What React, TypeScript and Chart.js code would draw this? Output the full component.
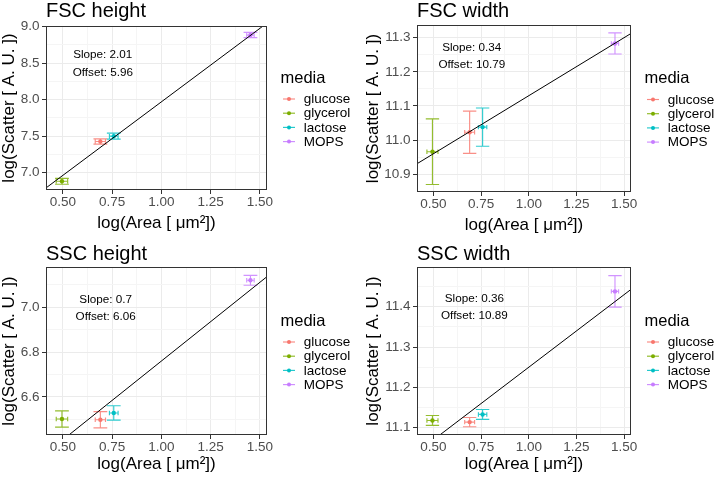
import React, { useEffect, useRef } from 'react';
import { Chart, registerables } from 'chart.js';

Chart.register(...registerables);

// ---------------- data ----------------
const media = ['glucose', 'glycerol', 'lactose', 'MOPS'];
const mediaColors = ['#F8766D', '#7CAE00', '#00BFC4', '#C77CFF'];

const logArea = [0.69, 0.495, 0.758, 1.452];
const logAreaErr = [0.026, 0.029, 0.022, 0.019];

const fscHeight = [7.428, 6.883, 7.5, 8.883];
const fscHeightErr = [0.036, 0.041, 0.041, 0.036];
const fscWidth = [11.023, 10.966, 11.038, 11.283];
const fscWidthErr = [0.062, 0.096, 0.056, 0.031];
const sscHeight = [6.499, 6.502, 6.529, 7.119];
const sscHeightErr = [0.036, 0.036, 0.032, 0.022];
const sscWidth = [11.114, 11.118, 11.133, 11.438];
const sscWidthErr = [0.0115, 0.0123, 0.0123, 0.039];

const panelTitles = ['FSC height', 'FSC width', 'SSC height', 'SSC width'];
const panelValues = [fscHeight, fscWidth, sscHeight, sscWidth];
const panelErrors = [fscHeightErr, fscWidthErr, sscHeightErr, sscWidthErr];

const fitSlopes = [2.01, 0.34, 0.7, 0.36];
const fitOffsets = [5.96, 10.79, 6.06, 10.89];
const slopeLabels = ['Slope: 2.01', 'Slope: 0.34', 'Slope: 0.7', 'Slope: 0.36'];
const offsetLabels = ['Offset: 5.96', 'Offset: 10.79', 'Offset: 6.06', 'Offset: 10.89'];

const xTickValues = [0.5, 0.75, 1.0, 1.25, 1.5];
const xTickLabels = ['0.50', '0.75', '1.00', '1.25', '1.50'];
const xLimits = [0.414, 1.536];

const yTickValues = [
  [7.0, 7.5, 8.0, 8.5, 9.0],
  [10.9, 11.0, 11.1, 11.2, 11.3],
  [6.6, 6.8, 7.0],
  [11.1, 11.2, 11.3, 11.4],
];
const yTickLabels = [
  ['7.0', '7.5', '8.0', '8.5', '9.0'],
  ['10.9', '11.0', '11.1', '11.2', '11.3'],
  ['6.6', '6.8', '7.0'],
  ['11.1', '11.2', '11.3', '11.4'],
];
const yLimits = [
  [6.764, 9.007],
  [10.848, 11.337],
  [6.431, 7.178],
  [11.082, 11.4985],
];

const xAxisTitle = 'log(Area [ \u03BCm\u00B2])';
const yAxisTitle = 'log(Scatter [ A. U. ])';
const legendTitle = 'media';

// ---------------- layout / style ----------------
const FONT = "'Liberation Sans', Arial, Helvetica, sans-serif";
const layouts = [
  { left: 0, top: 0, w: 358, h: 238, plot: [46, 26, 267, 190], yTitlePad: 0.7, xTitlePad: 5.8, titleBase: 16.7, noteX: 0.257, noteY: [0.193, 0.303] },
  { left: 358, top: 0, w: 358, h: 238, plot: [59, 25, 273, 192], yTitlePad: 7.3, xTitlePad: 4.5, titleBase: 16.7, noteX: 0.256, noteY: [0.153, 0.256] },
  { left: 0, top: 238, w: 358, h: 239, plot: [46, 29, 267, 197], yTitlePad: 0.7, xTitlePad: 3.8, titleBase: 21.7, noteX: 0.27, noteY: [0.2125, 0.315] },
  { left: 358, top: 238, w: 358, h: 239, plot: [59, 29, 273, 197], yTitlePad: 6.8, xTitlePad: 3.8, titleBase: 21.7, noteX: 0.268, noteY: [0.208, 0.312] },
];

function withAlpha(hex: string, a: number) {
  const n = parseInt(hex.slice(1), 16);
  return `rgba(${(n >> 16) & 255},${(n >> 8) & 255},${n & 255},${a})`;
}

function gridTicks(major: number[], min: number, max: number) {
  const step = major[1] - major[0];
  const out: any[] = [];
  for (let k = -2; k <= major.length * 2 + 2; k++) {
    const v = major[0] + (k * step) / 2;
    if (v < min - 1e-9 || v > max + 1e-9) continue;
    out.push({ value: +v.toFixed(5), isMain: k % 2 === 0 && k >= 0 && k < major.length * 2 });
  }
  return out;
}

function labelFor(values: number[], labels: string[], v: number) {
  const i = values.findIndex((m) => Math.abs(m - v) < 1e-6);
  return i >= 0 ? labels[i] : '';
}

const errorBarPlugin = {
  id: 'errorBars',
  beforeDatasetsDraw(chart: any) {
    const { ctx, chartArea, scales } = chart;
    const xs = scales.x;
    const ys = scales.y;
    ctx.save();
    ctx.beginPath();
    ctx.rect(chartArea.left, chartArea.top, chartArea.right - chartArea.left, chartArea.bottom - chartArea.top);
    ctx.clip();
    chart.data.datasets.forEach((ds: any) => {
      if (ds.errY === undefined) return;
      const p = ds.data[0];
      const px = xs.getPixelForValue(p.x);
      const py = ys.getPixelForValue(p.y);
      const yTop = ys.getPixelForValue(p.y + ds.errY);
      const yBot = ys.getPixelForValue(p.y - ds.errY);
      const capL = xs.getPixelForValue(p.x - 0.035);
      const capR = xs.getPixelForValue(p.x + 0.035);
      const xL = xs.getPixelForValue(p.x - ds.errX);
      const xR = xs.getPixelForValue(p.x + ds.errX);
      ctx.strokeStyle = withAlpha(ds.baseColor, 0.82);
      ctx.lineWidth = 1.15;
      ctx.beginPath();
      ctx.moveTo(px, yTop); ctx.lineTo(px, yBot);
      ctx.moveTo(capL, yTop); ctx.lineTo(capR, yTop);
      ctx.moveTo(capL, yBot); ctx.lineTo(capR, yBot);
      ctx.moveTo(xL, py); ctx.lineTo(xR, py);
      ctx.moveTo(xL, py - 2.2); ctx.lineTo(xL, py + 2.2);
      ctx.moveTo(xR, py - 2.2); ctx.lineTo(xR, py + 2.2);
      ctx.stroke();
    });
    ctx.restore();
  },
};

const decorPlugin = {
  id: 'panelDecor',
  afterDraw(chart: any, _args: any, opts: any) {
    const { ctx, chartArea } = chart;
    const { left, top, right, bottom } = chartArea;
    ctx.save();
    // panel border
    ctx.strokeStyle = '#333333';
    ctx.lineWidth = 1;
    ctx.strokeRect(left + 0.5, top + 0.5, right - left - 1, bottom - top - 1);
    // panel title
    ctx.fillStyle = '#000000';
    ctx.font = `20px ${FONT}`;
    ctx.textAlign = 'left';
    ctx.textBaseline = 'alphabetic';
    ctx.fillText(opts.title, left, opts.titleBase);
    // fit annotation
    ctx.font = `11.7px ${FONT}`;
    ctx.textAlign = 'center';
    const nx = left + opts.noteX * (right - left);
    opts.notes.forEach((t: string, i: number) => {
      ctx.fillText(t, nx, top + opts.noteY[i] * (bottom - top));
    });
    // legend
    const cy = (top + bottom) / 2;
    ctx.textAlign = 'left';
    ctx.font = `16.5px ${FONT}`;
    ctx.fillText(opts.legendTitle, right + 13.5, cy - 25.5);
    ctx.font = `13.5px ${FONT}`;
    ctx.textBaseline = 'middle';
    chart.data.datasets.forEach((ds: any, i: number) => {
      if (ds.errY === undefined) return;
      const y = cy - 9 + 14.2 * i;
      ctx.strokeStyle = withAlpha(ds.baseColor, 0.85);
      ctx.lineWidth = 1.15;
      ctx.beginPath();
      ctx.moveTo(right + 16, y); ctx.lineTo(right + 28, y);
      ctx.stroke();
      ctx.fillStyle = ds.baseColor;
      ctx.beginPath();
      ctx.arc(right + 22, y, 2, 0, Math.PI * 2);
      ctx.fill();
      ctx.fillStyle = '#000000';
      ctx.fillText(ds.label, right + 36.7, y + 0.5);
    });
    ctx.restore();
  },
};

function Panel({ idx }: { idx: number }) {
  const ref = useRef<HTMLCanvasElement | null>(null);
  const L = layouts[idx];
  useEffect(() => {
    if (!ref.current) return;
    const [pl, pt, pr, pb] = L.plot;
    const yVals = panelValues[idx];
    const yErr = panelErrors[idx];
    const [yMin, yMax] = yLimits[idx];
    const [xMin, xMax] = xLimits;
    const yMajor = yTickValues[idx];
    const yLabels = yTickLabels[idx];

    const pointSets = media.map((m, i) => ({
      type: 'scatter' as const,
      label: m,
      data: [{ x: logArea[i], y: yVals[i] }],
      backgroundColor: mediaColors[i],
      borderColor: mediaColors[i],
      borderWidth: 0,
      pointRadius: 2.2,
      pointHoverRadius: 2.2,
      order: 1,
      errX: logAreaErr[i],
      errY: yErr[i],
      baseColor: mediaColors[i],
    }));
    const fitSet = {
      type: 'line' as const,
      label: 'fit',
      data: [
        { x: xMin, y: fitSlopes[idx] * xMin + fitOffsets[idx] },
        { x: xMax, y: fitSlopes[idx] * xMax + fitOffsets[idx] },
      ],
      borderColor: '#000000',
      borderWidth: 1,
      pointRadius: 0,
      fill: false,
      order: 0,
    };

    const gridColor = (c: any) => (c.tick && c.tick.isMain ? '#EBEBEB' : '#F5F5F5');
    const tickColor = (c: any) => (c.tick && c.tick.isMain ? '#333333' : 'rgba(0,0,0,0)');

    const chart = new Chart(ref.current, {
      type: 'scatter',
      data: { datasets: [...pointSets, fitSet] as any },
      options: {
        responsive: false,
        animation: false,
        events: [],
        layout: { padding: { left: 0, top: pt, right: L.w - pr, bottom: 0 } },
        plugins: {
          legend: { display: false },
          tooltip: { enabled: false },
          title: { display: false },
          panelDecor: {
            title: panelTitles[idx],
            titleBase: L.titleBase,
            notes: [slopeLabels[idx], offsetLabels[idx]],
            noteX: L.noteX,
            noteY: L.noteY,
            legendTitle,
          },
        } as any,
        scales: {
          x: {
            type: 'linear',
            position: 'bottom',
            min: xMin,
            max: xMax,
            bounds: 'data',
            afterBuildTicks: (s: any) => { s.ticks = gridTicks(xTickValues, xMin, xMax); },
            afterFit: (s: any) => { s.height = L.h - pb; },
            ticks: {
              autoSkip: false,
              maxRotation: 0,
              minRotation: 0,
              padding: 1.5,
              color: '#4D4D4D',
              font: { family: FONT, size: 13.5, lineHeight: 1 },
              callback: (v: any, i: number, ticks: any[]) => (ticks[i].isMain ? labelFor(xTickValues, xTickLabels, v) : ''),
            },
            grid: { color: gridColor, lineWidth: 1, tickColor, tickLength: 4, tickWidth: 1, drawTicks: true },
            border: { display: false },
            title: {
              display: true,
              text: xAxisTitle,
              color: '#000000',
              font: { family: FONT, size: 17, lineHeight: 1 },
              padding: { top: 0, bottom: L.xTitlePad },
            },
          },
          y: {
            type: 'linear',
            position: 'left',
            min: yMin,
            max: yMax,
            bounds: 'data',
            afterBuildTicks: (s: any) => { s.ticks = gridTicks(yMajor, yMin, yMax); },
            afterFit: (s: any) => { s.width = pl; },
            ticks: {
              autoSkip: false,
              padding: 2.5,
              color: '#4D4D4D',
              font: { family: FONT, size: 13.5, lineHeight: 1.2 },
              callback: (v: any, i: number, ticks: any[]) => (ticks[i].isMain ? labelFor(yMajor, yLabels, v) : ''),
            },
            grid: { color: gridColor, lineWidth: 1, tickColor, tickLength: 4, tickWidth: 1, drawTicks: true },
            border: { display: false },
            title: {
              display: true,
              text: yAxisTitle,
              color: '#000000',
              font: { family: FONT, size: 17, lineHeight: 1 },
              padding: { top: L.yTitlePad, bottom: 0 },
            },
          },
        },
      } as any,
      plugins: [errorBarPlugin, decorPlugin],
    });
    return () => chart.destroy();
  }, [idx]);

  return (
    <canvas
      ref={ref}
      width={L.w}
      height={L.h}
      style={{ position: 'absolute', left: L.left, top: L.top, width: L.w, height: L.h }}
    />
  );
}

export default function App() {
  return (
    <div style={{ position: 'fixed', left: 0, top: 0, width: 716, height: 477, background: '#ffffff', overflow: 'hidden' }}>
      {[0, 1, 2, 3].map((i) => (
        <Panel key={i} idx={i} />
      ))}
    </div>
  );
}
